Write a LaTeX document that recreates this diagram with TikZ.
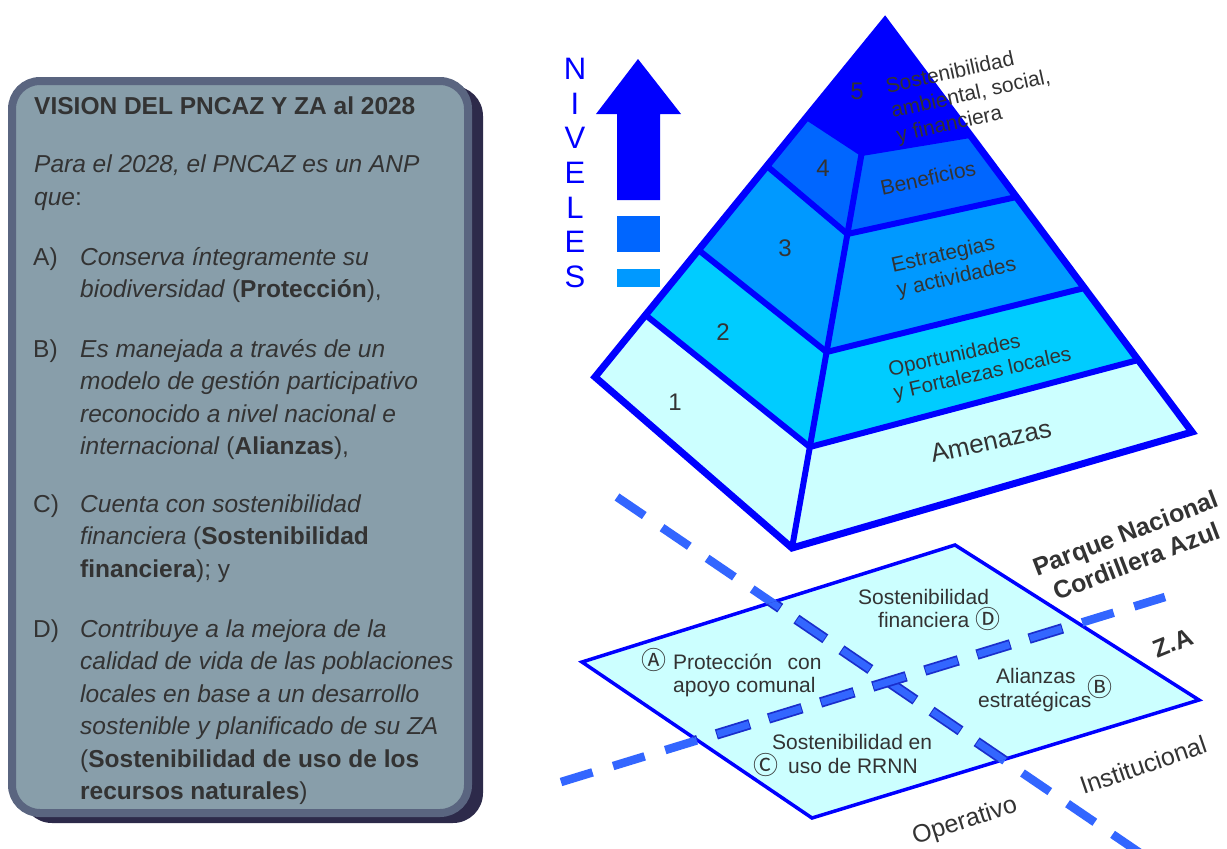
\documentclass[tikz,border=0pt]{standalone}
\usepackage{fontspec}
\setmainfont{Liberation Sans}
\newfontfamily\symfont{Noto Sans CJK JP}
\usetikzlibrary{calc}
\newcommand{\myfs}[2]{\fontsize{#1}{#2}\selectfont}
\definecolor{pblue}{HTML}{0000FF}
\definecolor{lvA}{HTML}{0066FF}
\definecolor{lvB}{HTML}{0099FF}
\definecolor{lvC}{HTML}{00CCFF}
\definecolor{lvD}{HTML}{CCFFFF}
\definecolor{dashc}{HTML}{3366FF}
\definecolor{dashedge}{HTML}{1A2ECC}
\definecolor{txtc}{HTML}{333333}
\definecolor{boxfill}{HTML}{889EAA}
\definecolor{boxedge}{HTML}{5A6580}
\definecolor{boxshadow}{HTML}{2D2A4A}
\begin{document}
\begin{tikzpicture}[x=1pt,y=-1pt,
  ln/.style={anchor=base west, inner sep=0pt, text=txtc, font=\myfs{24.5}{30}},
  pl/.style={anchor=base west, inner sep=0pt, text=txtc, font=\myfs{21}{25}},
  circ/.style={inner sep=0pt, text=txtc, font=\symfont\myfs{25}{25}},
  face/.style={inner sep=0pt, text=txtc, font=\myfs{21}{25}, align=left, rotate=12.5},
  num/.style={inner sep=0pt, text=txtc, font=\myfs{24}{24}},
  niv/.style={anchor=base, inner sep=0pt, text=pblue, font=\myfs{31}{31}},
  side/.style={inner sep=0pt, text=txtc},
  edgeline/.style={pblue, line width=6pt, line join=miter},
  dashmain/.style={dashc, line width=8.5pt, dash pattern=on 33pt off 21.5pt},
  dashrim/.style={dashedge, line width=10.5pt, dash pattern=on 35pt off 19.5pt, dash phase=1pt},
  dashin/.style={dashc, line width=7pt, dash pattern=on 33pt off 21.5pt}]
\useasboundingbox (0,0) rectangle (1227,849);

% ---------- left vision box ----------
\fill[boxshadow, rounded corners=30pt] (22,86) rectangle (483,823);
\filldraw[fill=boxfill, draw=boxedge, line width=8pt, rounded corners=28pt] (12,81) rectangle (468,813);

\node[ln] (title) at (34,114) {\textbf{VISION DEL PNCAZ Y ZA al 2028}};
\node[ln] (p1) at (34,172) {\textit{Para el 2028, el PNCAZ es un ANP}};
\node[ln] (p2) at (34,205) {\textit{que}:};
\node[ln] (la) at (33,265) {A)};
\node[ln] (a1) at (80,265) {\textit{Conserva íntegramente su}};
\node[ln] (a2) at (80,297) {\textit{biodiversidad} (\textbf{Protección}),};
\node[ln] (lb) at (33,357) {B)};
\node[ln] (b1) at (80,357) {\textit{Es manejada a través de un}};
\node[ln] (b2) at (80,389.5) {\textit{modelo de gestión participativo}};
\node[ln] (b3) at (80,422) {\textit{reconocido a nivel nacional e}};
\node[ln] (b4) at (80,454.5) {\textit{internacional} (\textbf{Alianzas}),};
\node[ln] (lc) at (33,512) {C)};
\node[ln] (c1) at (80,512) {\textit{Cuenta con sostenibilidad}};
\node[ln] (c2) at (80,544.5) {\textit{financiera} (\textbf{Sostenibilidad}};
\node[ln] (c3) at (80,577) {\textbf{financiera}); y};
\node[ln] (ld) at (33,637) {D)};
\node[ln] (d1) at (80,637) {\textit{Contribuye a la mejora de la}};
\node[ln] (d2) at (80,669.5) {\textit{calidad de vida de las poblaciones}};
\node[ln] (d3) at (80,702) {\textit{locales en base a un desarrollo}};
\node[ln] (d4) at (80,734.5) {\textit{sostenible y planificado de su ZA}};
\node[ln] (d5) at (80,767) {(\textbf{Sostenibilidad de uso de los}};
\node[ln] (d6) at (80,799.5) {\textbf{recursos naturales})};

% ---------- NIVELES ----------
\foreach \ch [count=\i from 0] in {N,I,V,E,L,E,S}
  \node[niv] (niv\i) at (575,{79.5+34.67*\i}) {\ch};
\fill[pblue] (617,200) -- (617,114) -- (596,114) -- (638,59) -- (681,114) -- (660,114) -- (660,200) -- cycle;
\fill[lvA] (617,216) rectangle (660,252);
\fill[lvB] (617,269) rectangle (660,287);

% ---------- pyramid ----------
\coordinate (pA) at (885,21);
\coordinate (pL) at (595,377);
\coordinate (pF) at (792,548);
\coordinate (pR) at (1192,432);
\coordinate (L5) at (806.8,117);  \coordinate (R5) at (861.7,153); \coordinate (E5) at (970.2,135);
\coordinate (L4) at (766.9,166);  \coordinate (R4) at (847.4,234); \coordinate (E4) at (1016.5,197);
\coordinate (L3) at (698.5,250);  \coordinate (R3) at (826.6,352); \coordinate (E3) at (1084.4,288);
\coordinate (L2) at (645.5,315);  \coordinate (R2) at (809.8,447); \coordinate (E2) at (1138.2,360);

\fill[pblue] (pA) -- (L5) -- (R5) -- (E5) -- cycle;
\fill[lvA] (L5) -- (L4) -- (R4) -- (E4) -- (E5) -- (R5) -- cycle;
\fill[lvB] (L4) -- (L3) -- (R3) -- (E3) -- (E4) -- (R4) -- cycle;
\fill[lvC] (L3) -- (L2) -- (R2) -- (E2) -- (E3) -- (R3) -- cycle;
\fill[lvD] (L2) -- (pL) -- (pF) -- (pR) -- (E2) -- (R2) -- cycle;
\draw[edgeline] (L5) -- (R5) -- (E5);
\draw[edgeline] (L4) -- (R4) -- (E4);
\draw[edgeline] (L3) -- (R3) -- (E3);
\draw[edgeline] (L2) -- (R2) -- (E2);
\draw[edgeline] (R5) -- (pF);
\draw[pblue, line width=7pt, line join=miter] (pA) -- (pL) -- (pF) -- (pR) -- cycle;

\node[num] (n5) at (857,91) {5};
\node[num] (n4) at (823,168) {4};
\node[num] (n3) at (785,248) {3};
\node[num] (n2) at (723,332) {2};
\node[num] (n1) at (675,402) {1};

\node[face] (t5) at (971,95) {Sostenibilidad\\ambiental, social,\\y financiera};
\node[face] (t4) at (928,178) {Beneficios};
\node[face] (t3) at (954,266) {Estrategias\\y actividades};
\node[face, font=\myfs{20.5}{24}] (t2) at (980,363) {Oportunidades\\y Fortalezas locales};
\node[face, font=\myfs{26}{30}] (t1) at (991,441) {Amenazas};

% ---------- plane ----------
\coordinate (Q1) at (582,662);
\coordinate (Q2) at (955,545);
\coordinate (Q3) at (1199,700);
\coordinate (Q4) at (812,818);
\filldraw[fill=lvD, draw=pblue, line width=3.5pt, line join=miter] (Q1) -- (Q2) -- (Q3) -- (Q4) -- cycle;

\coordinate (d1s) at (617,497);
\coordinate (d1e) at (1140,853);
\coordinate (d2s) at (561,782);
\coordinate (d2e) at (1165,597);
\draw[dashmain] (d1s) -- (d1e);
\draw[dashmain] (d2s) -- (d2e);
\begin{scope}
  \clip (Q1) -- (Q2) -- (Q3) -- (Q4) -- cycle;
  \draw[dashrim] (d1s) -- (d1e);
  \draw[dashin] (d1s) -- (d1e);
  \draw[dashrim] (d2s) -- (d2e);
  \draw[dashin] (d2s) -- (d2e);
\end{scope}

\node[pl] (s1) at (858,604) {Sostenibilidad};
\node[pl] (s2) at (878,627) {financiera};
\node[circ] (cD) at (988,619) {Ⓓ};
\node[circ] (cA) at (654,660) {Ⓐ};
\node[pl] (pa1) at (673,669) {Protección\hspace{0.45em} con};
\node[pl] (pa2) at (673,692) {apoyo comunal};
\node[pl] (sc1) at (772,749) {Sostenibilidad en};
\node[circ] (cC) at (766,765) {Ⓒ};
\node[pl] (sc2) at (788,773) {uso de RRNN};
\node[pl] (al1) at (996,683) {Alianzas};
\node[pl] (al2) at (978,707) {estratégicas};
\node[circ] (cB) at (1100,687) {Ⓑ};

% ---------- side labels ----------
\node[side, font=\bfseries\myfs{25}{30}, align=center, rotate=21] (pnca) at (1131,547) {Parque Nacional\\Cordillera Azul};
\node[side, font=\bfseries\myfs{25}{25}, rotate=22] (za) at (1173,643) {Z.A};
\node[side, font=\myfs{25}{25}, rotate=19] (inst) at (1143,765) {Institucional};
\node[side, font=\myfs{25}{25}, rotate=18] (oper) at (965,822) {Operativo};
\end{tikzpicture}
\end{document}
